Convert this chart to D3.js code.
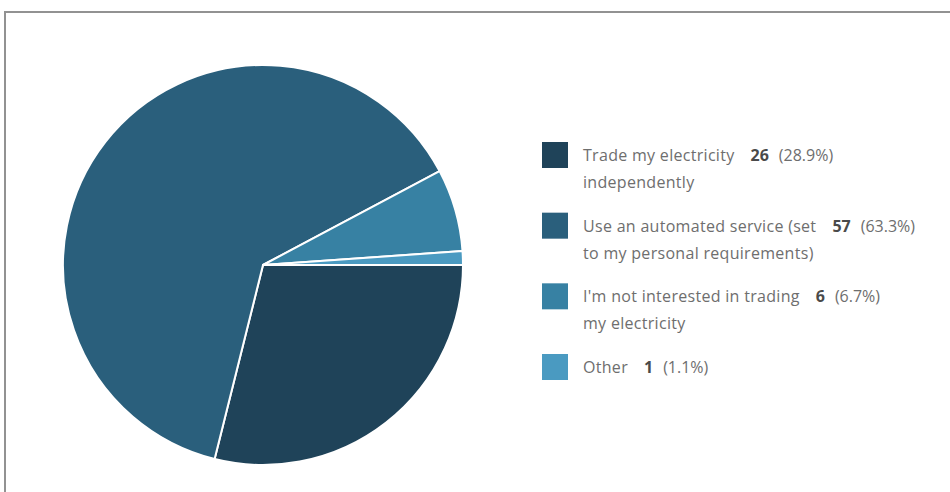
<!DOCTYPE html>
<html><head><meta charset="utf-8">
<script src="https://cdn.jsdelivr.net/npm/d3@7"></script>
<style>
html,body{margin:0;padding:0;background:#fff;}
svg{display:block;}
text{font-family:"Open Sans",Roboto,sans-serif;}
</style></head>
<body>
<svg id="chart" width="950" height="492"></svg>
<script>
const categories = ["Trade my electricity independently", "Use an automated service (set to my personal requirements)", "I'm not interested in trading my electricity", "Other"];
const labelLines = [["Trade my electricity", "independently"], ["Use an automated service (set", "to my personal requirements)"], ["I'm not interested in trading", "my electricity"], ["Other"]];
const counts = [26, 57, 6, 1];
const colors = ["#1f4359", "#2a5f7c", "#3781a3", "#4a9ac1"];

const svg = d3.select("#chart");

// frame
svg.append("rect").attr("x", 5).attr("y", 12).attr("width", 980).attr("height", 600)
  .attr("fill", "none").attr("stroke", "#929292").attr("stroke-width", 2);

const total = d3.sum(counts);
const data = counts.map((v, i) => ({name: categories[i], value: v, i}));

const pie = d3.pie().value(d => d.value).sort(null)
  .startAngle(Math.PI / 2).endAngle(Math.PI / 2 + 2 * Math.PI);
const arc = d3.arc().innerRadius(0).outerRadius(200);

const cx = 263, cy = 265;
const g = svg.append("g").attr("transform", `translate(${cx},${cy})`);
g.selectAll("path").data(pie(data)).join("path")
  .attr("d", arc)
  .attr("fill", d => colors[d.data.i])
  .attr("stroke", "#fff").attr("stroke-width", 2).attr("stroke-linejoin", "round");

// legend
const legendTop = d3.scaleLinear().domain([0, 3]).range([142, 354]);
const fs = 16;
const lg = svg.append("g");
data.forEach((d, i) => {
  const top = legendTop(i);
  lg.append("rect").attr("x", 542).attr("y", top).attr("width", 26).attr("height", 26)
    .attr("fill", colors[i]);
  const lines = labelLines[i];
  const t = lg.append("text").attr("x", 583).attr("y", top + 19)
    .attr("font-size", fs).attr("fill", "#6e6e6e");
  t.append("tspan").attr("letter-spacing", 0.3).text(lines[0]);
  t.append("tspan").attr("dx", 16).attr("font-weight", "bold").attr("fill", "#4a4a4a").text(d.value);
  t.append("tspan").attr("dx", 10).text("(" + d3.format(".1f")(d.value / total * 100) + "%)");
  if (lines[1]) {
    lg.append("text").attr("x", 583).attr("y", top + 46).attr("letter-spacing", 0.3)
      .attr("font-size", fs).attr("fill", "#6e6e6e").text(lines[1]);
  }
});
</script>
</body></html>
